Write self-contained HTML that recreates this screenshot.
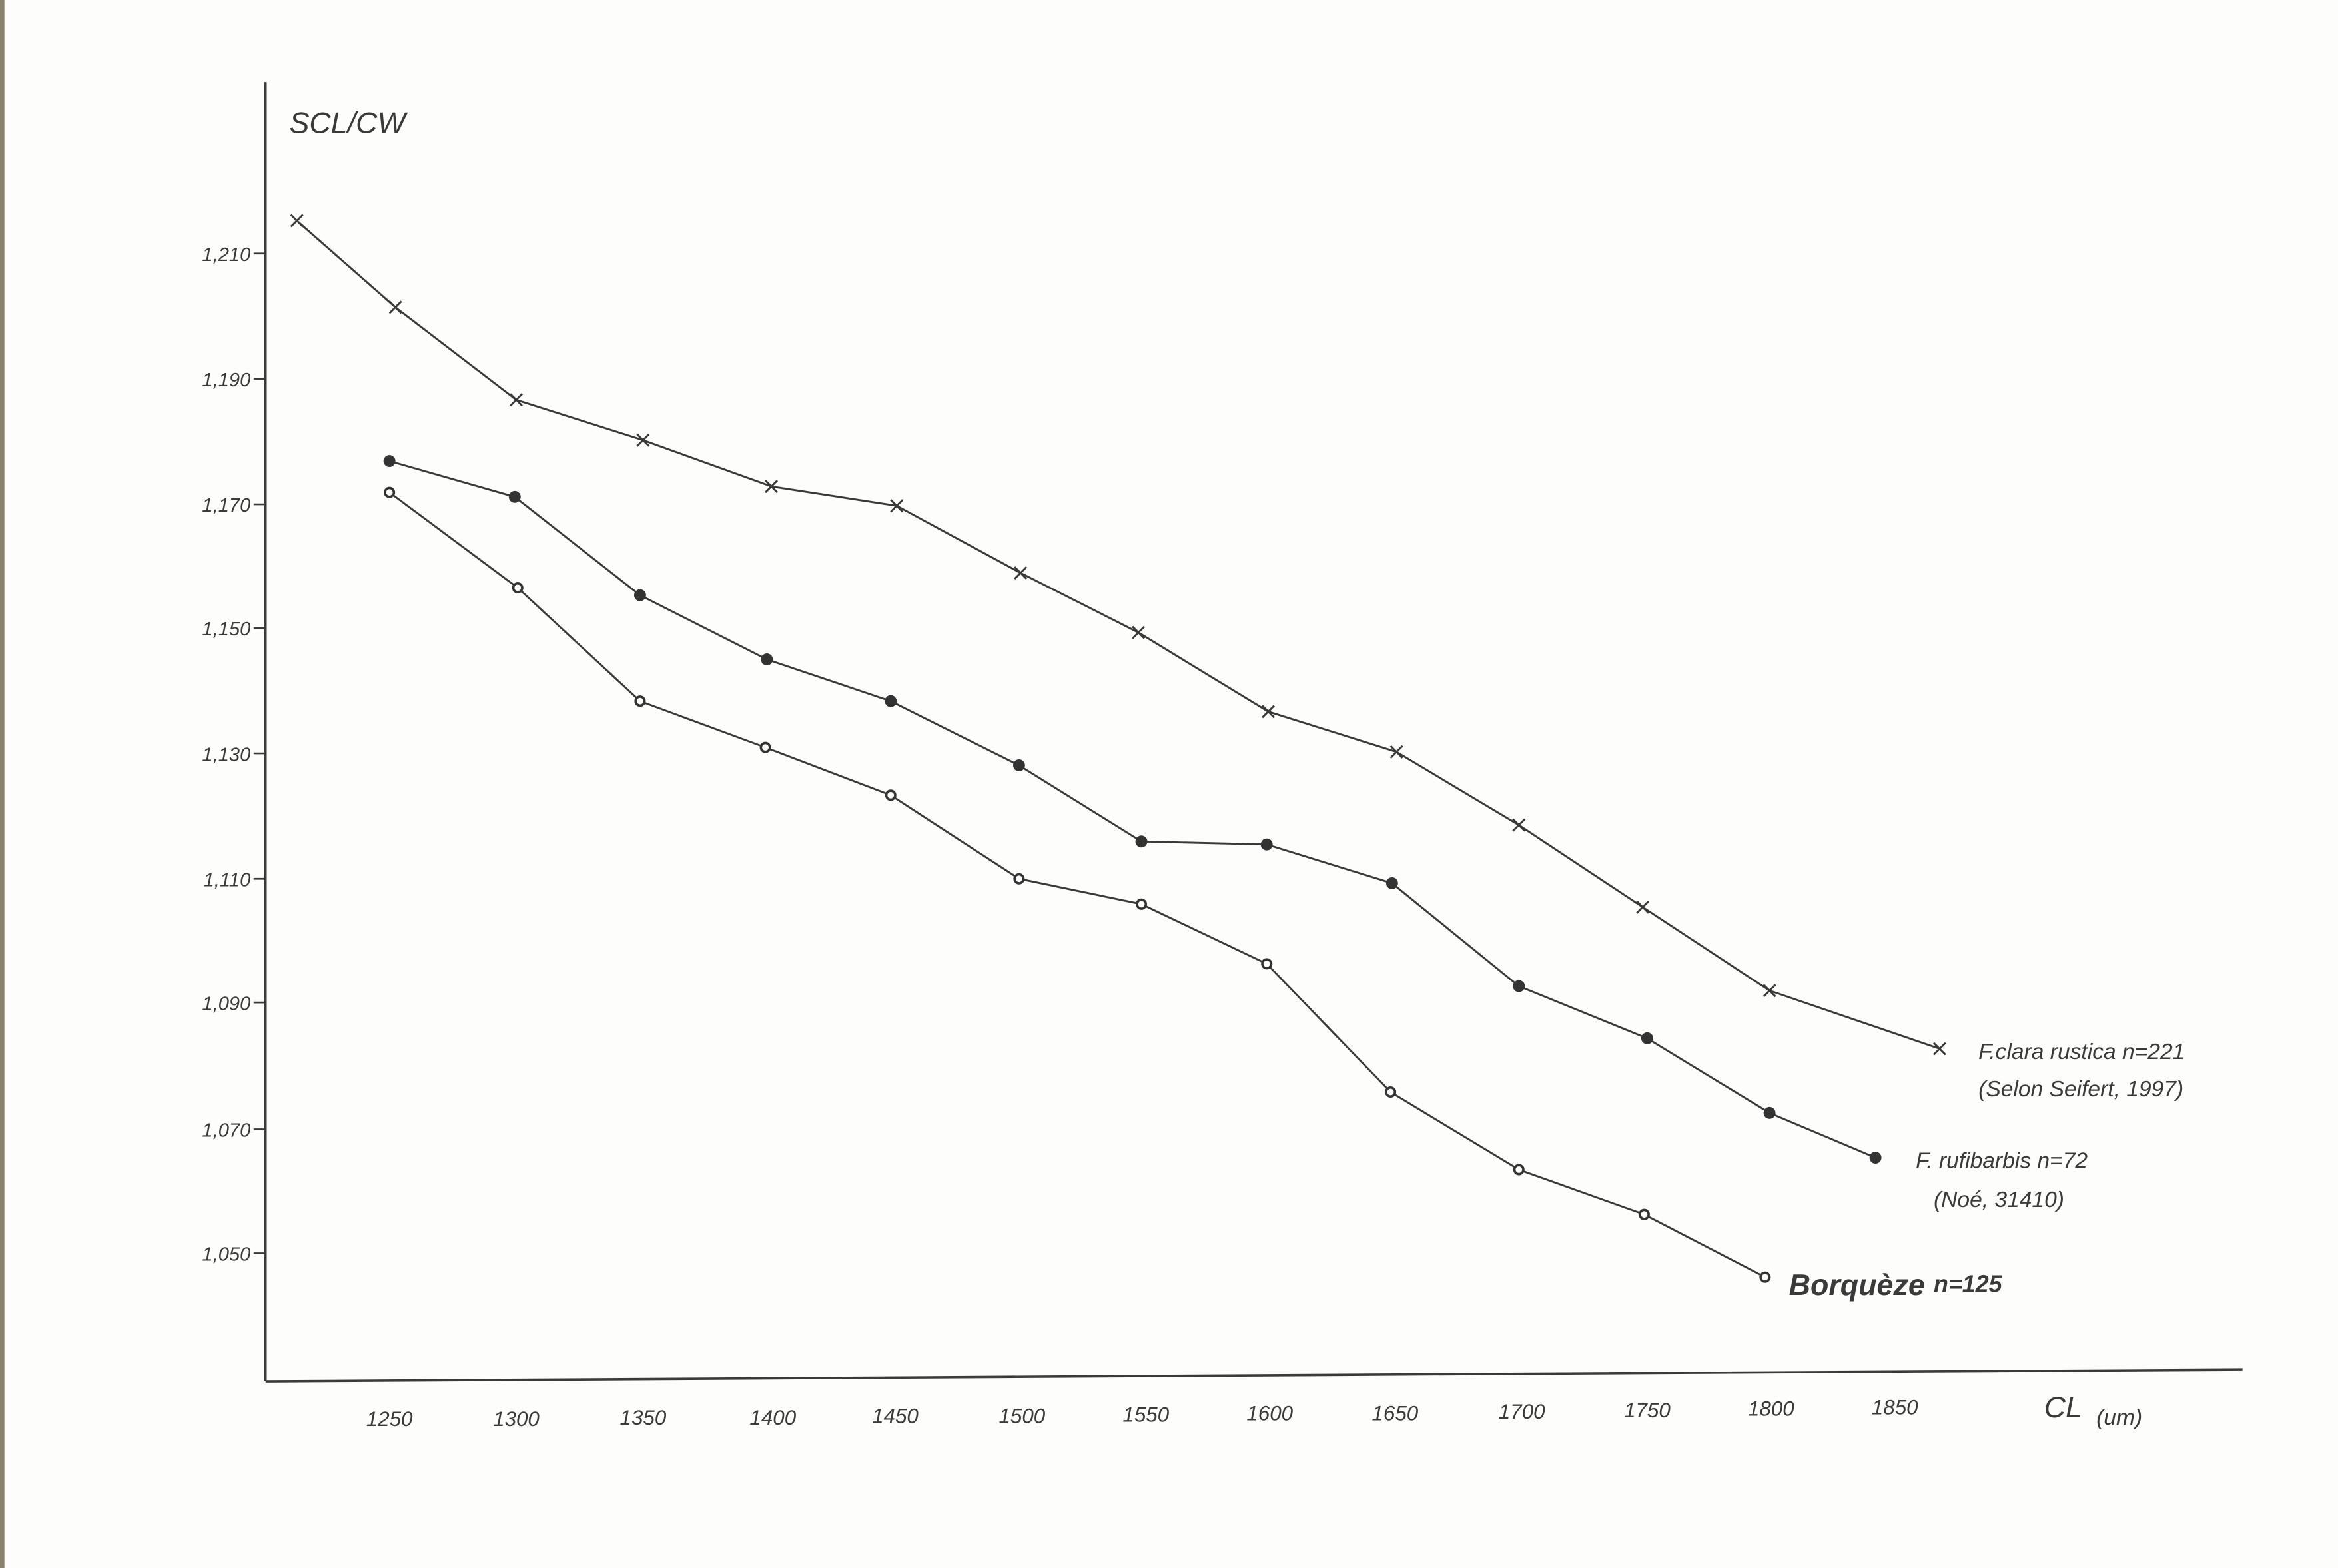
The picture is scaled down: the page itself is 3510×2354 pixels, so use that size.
<!DOCTYPE html>
<html><head><meta charset="utf-8"><style>
html,body{margin:0;padding:0;background:#fdfdfb;}
svg{display:block;}
text{font-family:"Liberation Sans",sans-serif;fill:#3a3a3a;font-style:italic;}
</style></head><body>
<svg width="3510" height="2354" viewBox="0 0 1567 1051" preserveAspectRatio="none">
<rect x="0" y="0" width="1567" height="1051" fill="#fdfdfb"/>
<rect x="0" y="0" width="3" height="1051" fill="#8a8070"/>
<g stroke="#3a3a3a" stroke-width="1.6" fill="none">
<line x1="178" y1="55" x2="178" y2="926"/>
<line x1="178" y1="926" x2="1503" y2="918"/>
</g>
<g stroke="#3a3a3a" stroke-width="1.2">
<line x1="170" y1="170" x2="178" y2="170"/><line x1="170" y1="254" x2="178" y2="254"/>
<line x1="170" y1="338" x2="178" y2="338"/><line x1="170" y1="421" x2="178" y2="421"/>
<line x1="170" y1="505" x2="178" y2="505"/><line x1="170" y1="589" x2="178" y2="589"/>
<line x1="170" y1="672" x2="178" y2="672"/><line x1="170" y1="757" x2="178" y2="757"/>
<line x1="170" y1="840" x2="178" y2="840"/>
</g>
<g font-size="13" text-anchor="end">
<text x="168" y="175">1,210</text><text x="168" y="259">1,190</text>
<text x="168" y="343">1,170</text><text x="168" y="426">1,150</text>
<text x="168" y="510">1,130</text><text x="168" y="594">1,110</text>
<text x="168" y="677">1,090</text><text x="168" y="762">1,070</text>
<text x="168" y="845">1,050</text>
</g>
<g font-size="14" text-anchor="middle">
<text x="261" y="956">1250</text><text x="346" y="956">1300</text><text x="431" y="955">1350</text>
<text x="518" y="955">1400</text><text x="600" y="954">1450</text><text x="685" y="954">1500</text>
<text x="768" y="953">1550</text><text x="851" y="952">1600</text><text x="935" y="952">1650</text>
<text x="1020" y="951">1700</text><text x="1104" y="950">1750</text><text x="1187" y="949">1800</text>
<text x="1270" y="948">1850</text>
</g>
<text x="194" y="89" font-size="20">SCL/CW</text>
<text x="1370" y="950" font-size="20">CL</text><text x="1405" y="955" font-size="15">(um)</text>
<g stroke="#3a3a3a" stroke-width="1.3" fill="none">
<polyline points="199,148 265,206 346,268 431,295 517,326 601,339 684,384 763,424 850,477 936,504 1018,553 1101,608 1186,664 1300,703"/>
<polyline points="261,309 345,333 429,399 514,442 597,470 683,513 765,564 849,566 933,592 1018,661 1104,696 1186,746 1257,776"/>
<polyline points="261,330 347,394 429,470 513,501 597,533 683,589 765,606 849,646 932,732 1018,784 1102,814 1183,856"/>
</g>
<g stroke="#3a3a3a" stroke-width="1.3">
<path d="M195,144l8,8M203,144l-8,8M261,202l8,8M269,202l-8,8M342,264l8,8M350,264l-8,8M427,291l8,8M435,291l-8,8M513,322l8,8M521,322l-8,8M597,335l8,8M605,335l-8,8M680,380l8,8M688,380l-8,8M759,420l8,8M767,420l-8,8M846,473l8,8M854,473l-8,8M932,500l8,8M940,500l-8,8M1014,549l8,8M1022,549l-8,8M1097,604l8,8M1105,604l-8,8M1182,660l8,8M1190,660l-8,8M1296,699l8,8M1304,699l-8,8"/>
</g>
<g fill="#333">
<circle cx="261" cy="309" r="4"/><circle cx="345" cy="333" r="4"/><circle cx="429" cy="399" r="4"/><circle cx="514" cy="442" r="4"/><circle cx="597" cy="470" r="4"/><circle cx="683" cy="513" r="4"/><circle cx="765" cy="564" r="4"/><circle cx="849" cy="566" r="4"/><circle cx="933" cy="592" r="4"/><circle cx="1018" cy="661" r="4"/><circle cx="1104" cy="696" r="4"/><circle cx="1186" cy="746" r="4"/><circle cx="1257" cy="776" r="4"/>
</g>
<g fill="#fdfdfb" stroke="#333" stroke-width="1.6">
<circle cx="261" cy="330" r="3"/><circle cx="347" cy="394" r="3"/><circle cx="429" cy="470" r="3"/><circle cx="513" cy="501" r="3"/><circle cx="597" cy="533" r="3"/><circle cx="683" cy="589" r="3"/><circle cx="765" cy="606" r="3"/><circle cx="849" cy="646" r="3"/><circle cx="932" cy="732" r="3"/><circle cx="1018" cy="784" r="3"/><circle cx="1102" cy="814" r="3"/><circle cx="1183" cy="856" r="3"/>
</g>
<text x="1326" y="710" font-size="15">F.clara rustica n=221</text>
<text x="1326" y="735" font-size="15">(Selon Seifert, 1997)</text>
<text x="1284" y="783" font-size="15">F. rufibarbis n=72</text>
<text x="1296" y="809" font-size="15">(Noé, 31410)</text>
<text x="1199" y="868" font-size="20" font-weight="bold">Borquèze</text>
<text x="1296" y="866" font-size="16" font-weight="bold">n=125</text>
</svg>
</body></html>
